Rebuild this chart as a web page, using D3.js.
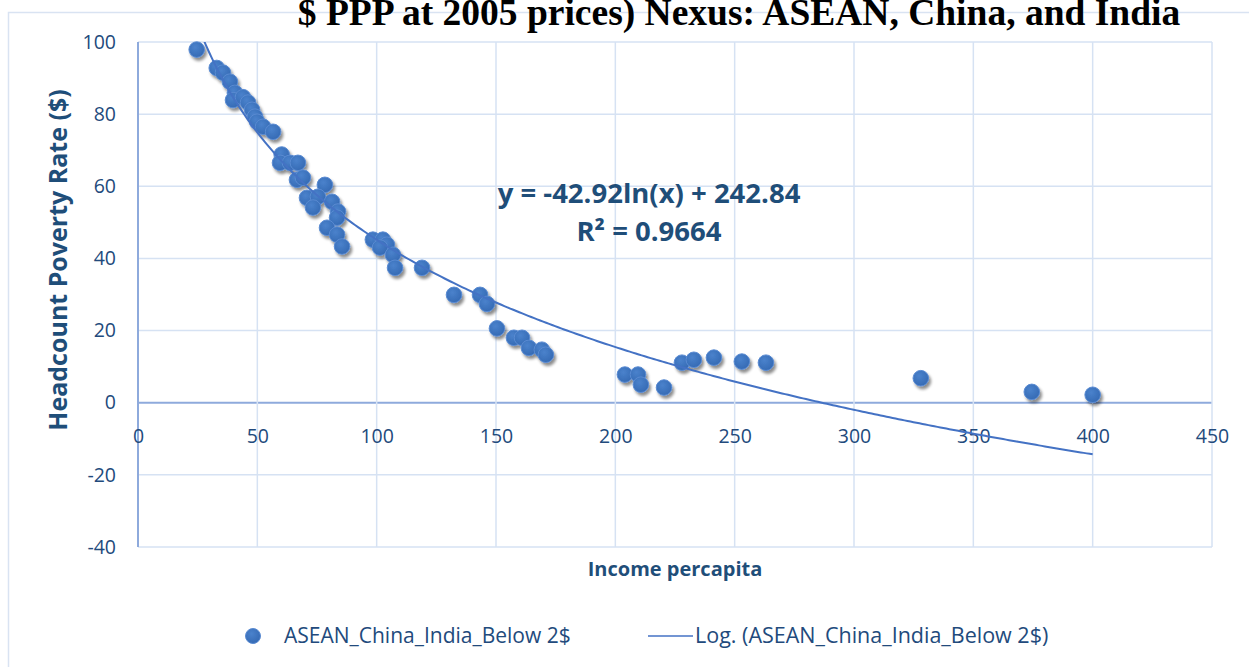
<!DOCTYPE html>
<html>
<head>
<meta charset="utf-8">
<script src="https://cdn.jsdelivr.net/npm/d3@7"></script>
<style>
  html, body { margin: 0; padding: 0; background: #ffffff; }
  svg { display: block; }
</style>
</head>
<body>
<svg id="chart" width="1249" height="667"></svg>
<script>
// Income per capita vs. headcount poverty rate (below $2 a day)
const incomePerCapita = [
  24.6, 33.0, 35.6, 38.5, 40.6, 39.8, 44.0, 46.1, 47.8, 49.0,
  49.9, 52.4, 56.6, 60.2, 59.5, 63.7, 67.0, 66.6, 69.1, 78.3,
  70.8, 75.4, 81.3, 73.3, 83.8, 83.4, 79.2, 83.4, 85.5, 98.4,
  102.6, 104.3, 101.4, 106.8, 107.7, 119.0, 132.4, 143.3, 146.2, 150.4,
  157.5, 160.9, 163.8, 169.2, 170.9, 204.0, 209.5, 210.7, 220.4, 227.9,
  232.9, 241.3, 253.0, 263.1, 328.0, 374.5, 400.0
];
const povertyRate = [
  97.9, 92.8, 91.5, 89.0, 85.9, 83.9, 84.7, 83.2, 81.2, 79.3,
  77.9, 76.5, 75.1, 68.8, 66.5, 66.5, 66.5, 61.8, 62.4, 60.4,
  56.8, 57.1, 55.7, 54.1, 53.0, 51.3, 48.5, 46.6, 43.3, 45.2,
  45.2, 43.8, 43.0, 41.0, 37.4, 37.4, 29.9, 29.9, 27.4, 20.6,
  18.0, 18.0, 15.2, 14.7, 13.3, 7.8, 7.8, 5.0, 4.2, 11.1,
  11.9, 12.5, 11.4, 11.1, 6.8, 3.0, 2.2
];

// Logarithmic trend: y = a ln(x) + b
const trendA = -42.92;
const trendB = 242.84;
const rSquared = 0.9664;

const xTicks = [0, 50, 100, 150, 200, 250, 300, 350, 400, 450];
const yTicks = [-40, -20, 0, 20, 40, 60, 80, 100];

const seriesName = "ASEAN_China_India_Below 2$";
const trendName = "Log. (ASEAN_China_India_Below 2$)";
const titleText = "$ PPP at 2005 prices) Nexus: ASEAN, China, and India";
const xTitle = "Income percapita";
const yTitle = "Headcount Poverty Rate ($)";

const svg = d3.select("#chart");
const plot = { left: 138, right: 1212, top: 42, bottom: 547 };

const x = d3.scaleLinear().domain([0, 450]).range([plot.left, plot.right]);
const y = d3.scaleLinear().domain([-40, 100]).range([plot.bottom, plot.top]);

const tickColor = "#224a7c";
const titleColor = "#1f4e79";
const gridColor = "#d6e2f3";
const axisColor = "#8eaadc";
const uiFont = "Open Sans, sans-serif";
const plainNumber = d => String(d);   // hyphen-minus for negatives

// outer chart frame
svg.append("rect")
  .attr("x", 8.5).attr("y", 12.5)
  .attr("width", 1300).attr("height", 700)
  .attr("fill", "none").attr("stroke", "#d9e3f2").attr("stroke-width", 1.5);

// chart title (upper part runs off the top)
svg.append("text")
  .attr("x", 739).attr("y", 25)
  .attr("text-anchor", "middle")
  .attr("font-family", "Liberation Serif, serif")
  .attr("font-weight", "bold")
  .attr("font-size", 37.5)
  .attr("fill", "#000")
  .text(titleText);

const defs = svg.append("defs");
const shadow = defs.append("filter").attr("id", "dropShadow")
  .attr("x", "-50%").attr("y", "-50%").attr("width", "200%").attr("height", "200%");
shadow.append("feGaussianBlur").attr("in", "SourceAlpha").attr("stdDeviation", 1.6).attr("result", "blur");
shadow.append("feOffset").attr("in", "blur").attr("dx", 1.5).attr("dy", 2.5).attr("result", "off");
shadow.append("feComponentTransfer").attr("in", "off").attr("result", "soft")
  .append("feFuncA").attr("type", "linear").attr("slope", 0.45);
const merge = shadow.append("feMerge");
merge.append("feMergeNode").attr("in", "soft");
merge.append("feMergeNode").attr("in", "SourceGraphic");

const grad = defs.append("radialGradient").attr("id", "markFill")
  .attr("cx", "40%").attr("cy", "35%").attr("r", "70%");
grad.append("stop").attr("offset", "0%").attr("stop-color", "#4a82cc");
grad.append("stop").attr("offset", "100%").attr("stop-color", "#3469b3");

// gridlines
const grid = svg.append("g");
grid.selectAll("line.h").data(yTicks).join("line")
  .attr("x1", plot.left).attr("x2", plot.right)
  .attr("y1", d => y(d)).attr("y2", d => y(d))
  .attr("stroke", d => d === 0 ? axisColor : gridColor)
  .attr("stroke-width", d => d === 0 ? 2 : 1.5);
grid.selectAll("line.v").data(xTicks.filter(d => d > 0)).join("line")
  .attr("x1", d => x(d)).attr("x2", d => x(d))
  .attr("y1", plot.top).attr("y2", plot.bottom)
  .attr("stroke", gridColor).attr("stroke-width", 1.5);
// vertical axis line
svg.append("line")
  .attr("x1", x(0)).attr("x2", x(0))
  .attr("y1", plot.top).attr("y2", plot.bottom)
  .attr("stroke", axisColor).attr("stroke-width", 2);

// y axis tick labels
const yAxis = d3.axisLeft(y).tickValues(yTicks).tickFormat(plainNumber).tickSize(0).tickPadding(22);
const gy = svg.append("g").attr("transform", `translate(${plot.left},0)`).call(yAxis);
gy.select(".domain").remove();
gy.selectAll("text")
  .attr("font-family", uiFont).attr("font-size", 19.5)
  .attr("fill", tickColor);

// x axis tick labels, sitting under the zero line
const xAxis = d3.axisBottom(x).tickValues(xTicks).tickFormat(plainNumber).tickSize(0).tickPadding(26);
const gx = svg.append("g").attr("transform", `translate(0,${y(0)})`).call(xAxis);
gx.select(".domain").remove();
gx.selectAll("text")
  .attr("font-family", uiFont).attr("font-size", 19.5)
  .attr("fill", tickColor);

// axis titles
svg.append("text")
  .attr("x", 675).attr("y", 576)
  .attr("text-anchor", "middle")
  .attr("font-family", uiFont).attr("font-weight", "bold")
  .attr("font-size", 20).attr("fill", titleColor)
  .text(xTitle);
svg.append("text")
  .attr("transform", `translate(67,260) rotate(-90)`)
  .attr("text-anchor", "middle")
  .attr("font-family", uiFont).attr("font-weight", "bold")
  .attr("font-size", 25).attr("fill", titleColor)
  .text(yTitle);

// clip to the plot area
defs.append("clipPath").attr("id", "plotClip")
  .append("rect")
  .attr("x", plot.left).attr("y", plot.top)
  .attr("width", plot.right - plot.left).attr("height", plot.bottom - plot.top);

// data points
const points = incomePerCapita.map((v, i) => ({ x: v, y: povertyRate[i] }));
svg.append("g").attr("filter", "url(#dropShadow)")
  .selectAll("circle").data(points).join("circle")
  .attr("cx", d => x(d.x))
  .attr("cy", d => y(d.y))
  .attr("r", 7.8)
  .attr("fill", "url(#markFill)")
  .attr("stroke", "#5a8bd2").attr("stroke-width", 1);

// logarithmic trend line
const xMin = d3.min(incomePerCapita), xMax = d3.max(incomePerCapita);
const trendPts = d3.range(0, 301).map(i => {
  const xv = xMin + (xMax - xMin) * i / 300;
  return [xv, trendA * Math.log(xv) + trendB];
});
svg.append("path")
  .datum(trendPts)
  .attr("clip-path", "url(#plotClip)")
  .attr("fill", "none").attr("stroke", "#4472c4").attr("stroke-width", 2)
  .attr("d", d3.line().x(d => x(d[0])).y(d => y(d[1])));

// equation label
const fmtSign = v => (v < 0 ? "-" : "") + Math.abs(v).toFixed(2);
svg.append("text")
  .attr("x", 649).attr("y", 203)
  .attr("text-anchor", "middle")
  .attr("font-family", uiFont).attr("font-weight", "bold")
  .attr("font-size", 27.5).attr("fill", titleColor)
  .text(`y = ${fmtSign(trendA)}ln(x) + ${trendB.toFixed(2)}`);
svg.append("text")
  .attr("x", 649).attr("y", 241)
  .attr("text-anchor", "middle")
  .attr("font-family", uiFont).attr("font-weight", "bold")
  .attr("font-size", 27.5).attr("fill", titleColor)
  .text(`R² = ${rSquared.toFixed(4)}`);

// legend
const legend = svg.append("g");
legend.append("circle")
  .attr("cx", 253).attr("cy", 636).attr("r", 7.5)
  .attr("fill", "url(#markFill)").attr("stroke", "#5a8bd2").attr("stroke-width", 1);
legend.append("text")
  .attr("x", 284).attr("y", 643)
  .attr("font-family", uiFont).attr("font-size", 21)
  .attr("fill", tickColor).text(seriesName);
legend.append("line")
  .attr("x1", 648).attr("x2", 693).attr("y1", 636).attr("y2", 636)
  .attr("stroke", "#4472c4").attr("stroke-width", 1.5);
legend.append("text")
  .attr("x", 695).attr("y", 643)
  .attr("font-family", uiFont).attr("font-size", 21.5)
  .attr("fill", tickColor).text(trendName);
</script>
</body>
</html>
